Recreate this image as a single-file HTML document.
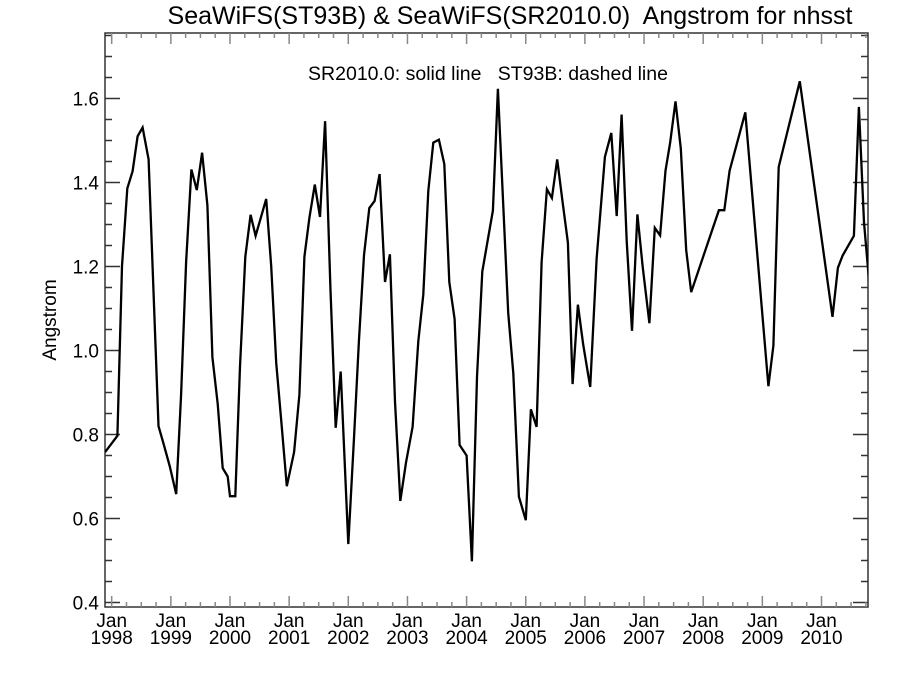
<!DOCTYPE html>
<html><head><meta charset="utf-8"><style>
body{margin:0;background:#fff}
svg text{font-family:"Liberation Sans",Arial,sans-serif;fill:#000}
</style></head><body>
<svg id="chart" width="900" height="675" viewBox="0 0 900 675" xmlns="http://www.w3.org/2000/svg">
<rect width="900" height="675" fill="#fff"/>
<text x="510" y="24" font-size="25" text-anchor="middle" xml:space="preserve">SeaWiFS(ST93B) &amp; SeaWiFS(SR2010.0)  Angstrom for nhsst</text>
<text x="488" y="80" font-size="19.5" text-anchor="middle" xml:space="preserve">SR2010.0: solid line   ST93B: dashed line</text>
<text transform="translate(56,320) rotate(-90)" font-size="19" text-anchor="middle">Angstrom</text>
<g id="axes"></g>
<g id="series"></g>
</svg>
<script>
const dates=[1997.888,1998.096,1998.174,1998.264,1998.354,1998.438,1998.522,1998.624,1998.792,1998.882,1998.983,1999.090,1999.174,1999.258,1999.348,1999.438,1999.528,1999.618,1999.702,1999.792,1999.876,1999.961,2000.000,2000.090,2000.169,2000.258,2000.348,2000.433,2000.522,2000.612,2000.697,2000.781,2000.871,2000.961,2001.084,2001.174,2001.258,2001.343,2001.433,2001.522,2001.607,2001.697,2001.787,2001.871,2002.000,2002.096,2002.180,2002.265,2002.355,2002.445,2002.530,2002.620,2002.704,2002.789,2002.879,2002.975,2003.087,2003.183,2003.268,2003.352,2003.437,2003.532,2003.623,2003.707,2003.797,2003.882,2004.000,2004.090,2004.175,2004.265,2004.355,2004.445,2004.530,2004.704,2004.789,2004.885,2005.000,2005.087,2005.183,2005.268,2005.358,2005.442,2005.532,2005.622,2005.713,2005.792,2005.882,2005.972,2006.090,2006.197,2006.338,2006.446,2006.537,2006.621,2006.706,2006.797,2006.887,2006.977,2007.090,2007.181,2007.271,2007.362,2007.441,2007.531,2007.621,2007.712,2007.797,2008.266,2008.356,2008.446,2008.712,2009.102,2009.186,2009.277,2009.633,2010.186,2010.277,2010.356,2010.548,2010.633,2010.718,2010.808];
const values=[0.758,0.797,1.201,1.386,1.427,1.510,1.531,1.455,0.820,0.775,0.724,0.658,0.895,1.210,1.431,1.382,1.471,1.346,0.984,0.873,0.720,0.700,0.653,0.653,0.962,1.223,1.323,1.273,1.317,1.361,1.201,0.971,0.826,0.677,0.758,0.895,1.223,1.316,1.395,1.318,1.546,1.150,0.816,0.950,0.539,0.792,1.022,1.227,1.339,1.356,1.420,1.163,1.229,0.878,0.642,0.733,0.818,1.022,1.133,1.380,1.495,1.502,1.444,1.163,1.075,0.775,0.750,0.498,0.937,1.188,1.261,1.333,1.623,1.090,0.946,0.652,0.596,0.860,0.818,1.210,1.384,1.363,1.455,1.355,1.257,0.920,1.109,1.014,0.913,1.218,1.461,1.518,1.320,1.562,1.261,1.047,1.324,1.199,1.065,1.292,1.274,1.428,1.494,1.593,1.481,1.239,1.139,1.334,1.334,1.428,1.567,0.915,1.012,1.437,1.641,1.080,1.197,1.226,1.273,1.580,1.305,1.159];
const yTicks=[0.4,0.6,0.8,1.0,1.2,1.4,1.6];
const yTickLabels=["0.4","0.6","0.8","1.0","1.2","1.4","1.6"];
const xYears=[1998,1999,2000,2001,2002,2003,2004,2005,2006,2007,2008,2009,2010];

const L=105,R=868,T=33,B=607;
const X0=1998,PXY=59.15,XJ=111.7;
const xs=t=>XJ+(t-X0)*PXY;
const ys=v=>602.5-(v-0.4)*420;
const NS="http://www.w3.org/2000/svg";
function mk(tag,attrs,parent){const e=document.createElementNS(NS,tag);for(const k in attrs)e.setAttribute(k,attrs[k]);parent.appendChild(e);return e;}
const ax=document.getElementById('axes');
const frame=mk('rect',{x:L,y:T,width:R-L,height:B-T,fill:'none',stroke:'#333','stroke-width':1.5},ax);


for(let v=0.4;v<=1.7501;v+=0.05){
  const y=ys(v);if(y<T||y>B)continue;
  const major=Math.abs(v*5-Math.round(v*5))<1e-6;
  const len=major?15:7;
  const l1=mk('line',{x1:L,x2:L+len,y1:y,y2:y,stroke:'#333','stroke-width':1.5},ax);
  
  
  const l2=mk('line',{x1:R,x2:R-len,y1:y,y2:y,stroke:'#333','stroke-width':1.5},ax);
  
  
}
yTicks.forEach((v,i)=>{
  const t=mk('text',{x:99,y:ys(v)+7,'font-size':19,'text-anchor':'end'},ax);
  t.textContent=yTickLabels[i];
  
  
});
for(let q=-1;q<=12*4+4;q++){
  const t=X0+q*0.25;const x=xs(t);if(x<L||x>R)continue;
  const major=q%4===0;const len=major?11:5;
  const a=mk('line',{x1:x,x2:x,y1:B,y2:B-len,stroke:'#888','stroke-width':1.5},ax);
  
  
  const b=mk('line',{x1:x,x2:x,y1:T,y2:T+len,stroke:'#888','stroke-width':1.5},ax);
  
  
}
xYears.forEach(yr=>{
  const x=xs(yr);
  const t1=mk('text',{x:x,y:627,'font-size':19,'text-anchor':'middle'},ax);
  t1.textContent='Jan';
  
  
  const t2=mk('text',{x:x,y:644,'font-size':19,'text-anchor':'middle'},ax);
  t2.textContent=String(yr);
  
  
});
const sg=document.getElementById('series');
const cp=mk('clipPath',{id:'clip'},sg);
mk('rect',{x:L,y:T,width:R-L,height:B-T},cp);
const pts=dates.map((d,i)=>xs(d).toFixed(1)+','+ys(values[i]).toFixed(1)).join(' ');
const pl=mk('polyline',{points:pts,fill:'none',stroke:'#000','stroke-width':2.3,'stroke-linejoin':'miter','clip-path':'url(#clip)'},sg);


</script>
</body></html>
